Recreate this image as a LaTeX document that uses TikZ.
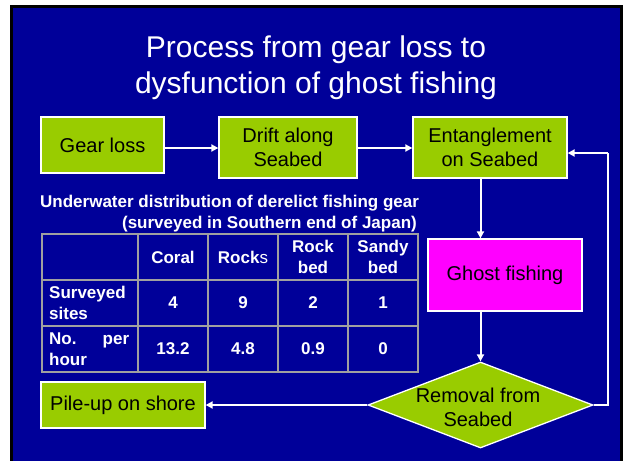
\documentclass[tikz,border=0pt]{standalone}
\usepackage{fontspec}
\setmainfont{Liberation Sans}
\usetikzlibrary{arrows.meta,shapes.geometric}
\definecolor{slideblue}{HTML}{000099}
\definecolor{boxgreen}{HTML}{99CC00}
\definecolor{ghostmag}{HTML}{FF00FF}
\definecolor{gridgray}{HTML}{A0A0A0}
\tikzset{
  flowbox/.style={draw=white, line width=1.3pt, fill=boxgreen, text=black, align=center,
    inner sep=0pt, font=\fontsize{20}{24}\selectfont},
  flowarrow/.style={draw=white, line width=2pt, -{Triangle[length=7pt,width=7pt]}},
  flowline/.style={draw=white, line width=2pt},
  titletext/.style={text=white, inner sep=0pt, font=\fontsize{30}{36}\selectfont},
  tabtitle/.style={text=white, inner sep=0pt, font=\fontsize{17}{20}\selectfont\bfseries},
  tabcell/.style={text=white, inner sep=0pt, align=center, font=\fontsize{17}{21}\selectfont\bfseries},
  tabrow/.style={text=white, inner sep=0pt, align=left, anchor=west, font=\fontsize{17}{21}\selectfont\bfseries},
  tabgrid/.style={draw=gridgray, line width=1.2pt}
}
\begin{document}
\begin{tikzpicture}[x=1pt,y=-1pt]
\useasboundingbox (0,0) rectangle (625,461);
\fill[white] (0,0) rectangle (625,461);
\fill[black] (10,5) rectangle (622.5,470);
\fill[slideblue] (13,7.5) rectangle (619.5,470);

% title
\node[titletext, anchor=base] (t1) at (316,57) {Process from gear loss to};
\node[titletext, anchor=base] (t2) at (316,93) {dysfunction of ghost fishing};

% flow boxes
\node[flowbox, minimum width=123pt, minimum height=56pt] (gear) at (102.5,145) {Gear loss};
\node[flowbox, minimum width=138pt, minimum height=61pt] (drift) at (288,147.5) {Drift along\\Seabed};
\node[flowbox, minimum width=154pt, minimum height=61pt] (ent) at (490,147.5) {Entanglement\\on Seabed};
\node[flowbox, fill=ghostmag, minimum width=154pt, minimum height=72pt] (ghost) at (505,275) {Ghost fishing};
\node[flowbox, diamond, aspect=2.6, minimum width=225pt, minimum height=86pt] (dia) at (480.5,405) {};
\node[text=black, align=center, inner sep=0pt, font=\fontsize{20}{24}\selectfont] (diatext) at (478,407) {Removal from\\Seabed};
\node[flowbox, minimum width=164pt, minimum height=46pt] (pile) at (123,405) {Pile-up on shore};

\coordinate (ret1) at (608,405);
\coordinate (ret2) at (608,153);

% connectors
\draw[flowarrow] (gear.east |- 0,148) -- (drift.west |- 0,148);
\draw[flowarrow] (drift.east |- 0,148) -- (ent.west |- 0,148);
\draw[flowarrow] (ent.south -| dia.north) -- (ghost.north -| dia.north);
\draw[flowarrow] (ghost.south -| dia.north) -- (dia.north);
\draw[flowarrow] (dia.west) -- (pile.east);
\draw[flowline] (dia.east) -- (ret1) -- (ret2);
\draw[flowarrow] (ret2) -- (ent.east |- ret2);

% table title
\node[tabtitle, anchor=base west] (tt1) at (40,207) {Underwater distribution of derelict fishing gear};
\node[tabtitle, anchor=base east] (tt2) at (417,228) {(surveyed in Southern end of Japan)};

% table grid
\draw[tabgrid] (42,234) rectangle (418,372);
\foreach \yy in {280,326} \draw[tabgrid] (42,\yy) -- (418,\yy);
\foreach \xx in {138,208,278,348} \draw[tabgrid] (\xx,234) -- (\xx,372);

% header
\node[tabcell] (hc1) at (173,257) {Coral};
\node[tabcell] (hc2) at (243,257) {Rock{\mdseries s}};
\node[tabcell] (hc3) at (313,257) {Rock\\bed};
\node[tabcell] (hc4) at (383,257) {Sandy\\bed};
% row 1
\node[tabrow] (r1) at (49,303) {Surveyed\\sites};
\node[tabcell] (r1c1) at (173,303) {4};
\node[tabcell] (r1c2) at (243,303) {9};
\node[tabcell] (r1c3) at (313,303) {2};
\node[tabcell] (r1c4) at (383,303) {1};
% row 2
\node[tabrow] (r2) at (49,349) {\makebox[80pt][l]{No.\hfill per}\\hour};
\node[tabcell] (r2c1) at (173,349) {13.2};
\node[tabcell] (r2c2) at (243,349) {4.8};
\node[tabcell] (r2c3) at (313,349) {0.9};
\node[tabcell] (r2c4) at (383,349) {0};
\end{tikzpicture}
\end{document}
